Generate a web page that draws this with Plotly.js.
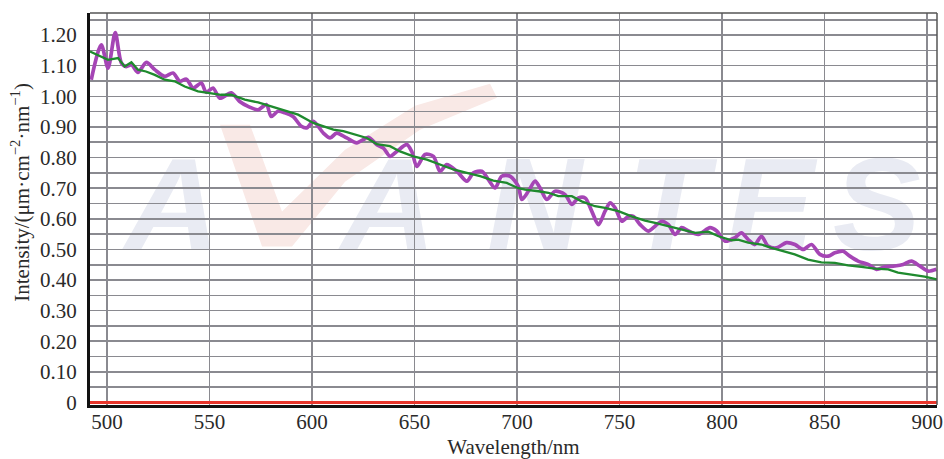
<!DOCTYPE html>
<html>
<head>
<meta charset="utf-8">
<script src="https://cdn.plot.ly/plotly-3.0.1.min.js"></script>
<style>html,body{margin:0;padding:0;background:#fff}#chart{width:944px;height:459px}</style>
</head>
<body>
<div id="chart"></div>
<script>
// Purple (measured) spectrum
const purpleWl = [492.3,497.2,500.5,504.0,507.0,509.4,511.9,515.1,519.2,523.3,528.1,532.2,535.5,538.7,542.0,546.0,548.4,551.7,555.0,560.6,564.7,568.8,573.7,577.7,580.1,583.4,586.7,590.7,594.8,597.4,600.6,605.5,608.8,612.0,616.9,621.8,627.5,631.6,634.8,638.0,641.3,646.2,648.6,651.1,655.1,659.2,662.4,665.7,670.6,675.5,678.7,682.8,686.0,689.3,692.5,696.6,700.6,702.3,705.5,708.8,711.2,714.5,718.5,723.4,726.7,729.9,733.2,736.4,739.7,742.9,745.4,747.8,751.1,754.3,756.7,760.0,764.0,767.3,770.6,773.8,777.1,780.3,783.6,788.4,794.1,797.4,801.5,806.2,809.4,812.7,815.9,819.2,822.4,826.5,831.4,835.5,839.5,843.6,847.7,851.7,855.0,859.0,862.3,866.3,871.2,875.3,879.4,884.2,888.3,892.3,896.4,900.5,904.5];
const purpleVal = [1.054,1.168,1.092,1.208,1.109,1.097,1.103,1.078,1.111,1.087,1.065,1.076,1.049,1.056,1.027,1.043,1.013,1.027,0.994,1.011,0.983,0.967,0.956,0.973,0.934,0.951,0.946,0.934,0.902,0.897,0.918,0.880,0.864,0.880,0.864,0.848,0.866,0.842,0.831,0.804,0.820,0.842,0.820,0.771,0.810,0.804,0.755,0.777,0.755,0.723,0.750,0.755,0.728,0.701,0.739,0.739,0.706,0.663,0.690,0.723,0.701,0.663,0.690,0.679,0.647,0.668,0.668,0.625,0.581,0.625,0.652,0.636,0.592,0.608,0.608,0.581,0.560,0.576,0.592,0.581,0.549,0.571,0.560,0.549,0.571,0.560,0.527,0.538,0.554,0.532,0.516,0.543,0.511,0.505,0.522,0.516,0.500,0.516,0.484,0.478,0.489,0.494,0.478,0.462,0.451,0.435,0.443,0.446,0.451,0.462,0.446,0.429,0.435];
// Green (reference) spectrum
const greenWl = [491.7,500.5,505.4,508.6,511.9,515.1,519.0,523.3,528.1,533.0,537.9,544.4,549.3,555.6,560.5,567.2,573.7,580.0,586.7,593.2,600.6,605.5,610.4,615.3,620.1,626.7,631.6,638.0,642.9,649.4,656.0,662.4,668.9,675.5,682.0,688.4,695.0,700.6,703.9,710.4,715.3,720.1,726.7,731.5,738.0,742.9,749.4,755.9,762.4,767.3,773.8,780.3,786.8,793.3,798.2,804.7,807.8,812.7,819.2,824.1,830.5,835.4,841.9,848.4,855.0,861.4,867.9,874.5,881.0,885.8,892.3,898.8,904.8];
const greenVal = [1.146,1.119,1.125,1.097,1.111,1.087,1.081,1.070,1.054,1.049,1.032,1.016,1.011,1.005,1.005,0.989,0.980,0.967,0.951,0.940,0.913,0.902,0.891,0.886,0.877,0.864,0.844,0.837,0.820,0.804,0.793,0.777,0.761,0.750,0.739,0.725,0.717,0.700,0.695,0.690,0.685,0.674,0.674,0.657,0.641,0.636,0.625,0.608,0.594,0.587,0.576,0.565,0.554,0.558,0.543,0.530,0.532,0.522,0.516,0.505,0.494,0.484,0.467,0.458,0.456,0.448,0.443,0.437,0.435,0.424,0.418,0.411,0.402];
// Red (dark) spectrum at zero
const redWl = [491.7, 904.8];
const redVal = [0, 0];
// Tick labels
const yTickVals = [0,0.1,0.2,0.3,0.4,0.5,0.6,0.7,0.8,0.9,1.0,1.1,1.2];
const yTickText = ["0","0.10","0.20","0.30","0.40","0.50","0.60","0.70","0.80","0.90","1.00","1.10","1.20"];
const xTickVals = [500,550,600,650,700,750,800,850,900];
// Watermark letters (decoration)
const wmLetters = ['A','A','N','T','E','S'];
const wmCenters = [0.097, 0.352, 0.525, 0.682, 0.803, 0.929];

const serif = "'Liberation Serif', 'Times New Roman', Times, serif";
const txt = '#2a2a2a';
const traces = [
  {x: redWl, y: redVal, mode: 'lines', line: {color: '#e8352b', width: 3}, hoverinfo: 'skip'},
  {x: purpleWl, y: purpleVal, mode: 'lines', line: {color: '#a545b5', width: 3.7, shape: 'spline', smoothing: 0.8}},
  {x: greenWl, y: greenVal, mode: 'lines', line: {color: '#1f8a2e', width: 2.3}}
];
const shapes = wmLetters.map((ch, i) => ({
  type: 'rect', xref: 'paper', yref: 'paper', x0: wmCenters[i] - 0.07, x1: wmCenters[i] + 0.07, y0: 0.445, y1: 0.645,
  layer: 'below', line: {width: 0}, fillcolor: 'rgba(0,0,0,0)',
  label: {text: ch, textposition: 'middle center',
    font: {family: "'Liberation Sans', Arial, sans-serif", size: 132, color: '#e9ebf3', weight: 'bold', style: 'italic'}}
}));
shapes.push({type: 'path', xref: 'paper', yref: 'paper', layer: 'below', line: {width: 0}, fillcolor: '#f9e9e6',
  path: 'M 0.1535 0.7149 L 0.2031 0.4043 L 0.2385 0.4043 L 0.3011 0.5698 L 0.3896 0.7021 L 0.4805 0.7836 L 0.4723 0.8193 L 0.3837 0.7632 L 0.3011 0.6512 L 0.2267 0.4934 L 0.1889 0.7149 Z'});
shapes.push({type: 'line', xref: 'paper', yref: 'paper', x0: 0, x1: 1, y0: 1, y1: 1, line: {color: '#555', width: 1.5}});
shapes.push({type: 'line', xref: 'paper', yref: 'paper', x0: 1, x1: 1, y0: 0, y1: 1, line: {color: '#555', width: 1.5}});

const layout = {
  width: 944, height: 459,
  margin: {l: 90, r: 7, t: 13, b: 54},
  paper_bgcolor: '#fff', plot_bgcolor: '#fff',
  showlegend: false,
  font: {family: serif, size: 21, color: txt},
  xaxis: {
    range: [491.7, 904.8], tickvals: xTickVals, ticktext: xTickVals.map(String),
    tickfont: {family: serif, size: 21, color: txt},
    showgrid: true, gridcolor: '#8a8a90', gridwidth: 1.6,
    showline: true, linecolor: '#111', linewidth: 3,
    ticks: '', ticklabelstandoff: -4, zeroline: false,
    title: {text: 'Wavelength/nm', font: {family: serif, size: 21, color: txt}, standoff: 10}
  },
  yaxis: {
    range: [-0.008, 1.272], tickvals: yTickVals, ticktext: yTickText,
    tickfont: {family: serif, size: 21, color: txt},
    showgrid: true, gridcolor: '#8a8a90', gridwidth: 1.6,
    minor: {dtick: 0.05, tick0: 0, showgrid: true, gridcolor: '#8a8a90', gridwidth: 1.6},
    showline: true, linecolor: '#111', linewidth: 3,
    ticks: 'outside', ticklen: 6, tickcolor: 'rgba(0,0,0,0)',
    zeroline: false
  },
  annotations: [{
    text: 'Intensity/(μm·cm<sup>−2</sup>·nm<sup>−1</sup>)', textangle: -90,
    xref: 'paper', yref: 'paper', x: -0.0815, y: 0.544, xanchor: 'center', yanchor: 'middle',
    showarrow: false, font: {family: serif, size: 21, color: txt}
  }],
  shapes: shapes
};
Plotly.newPlot('chart', traces, layout, {displayModeBar: false, staticPlot: true});
</script>
</body>
</html>
